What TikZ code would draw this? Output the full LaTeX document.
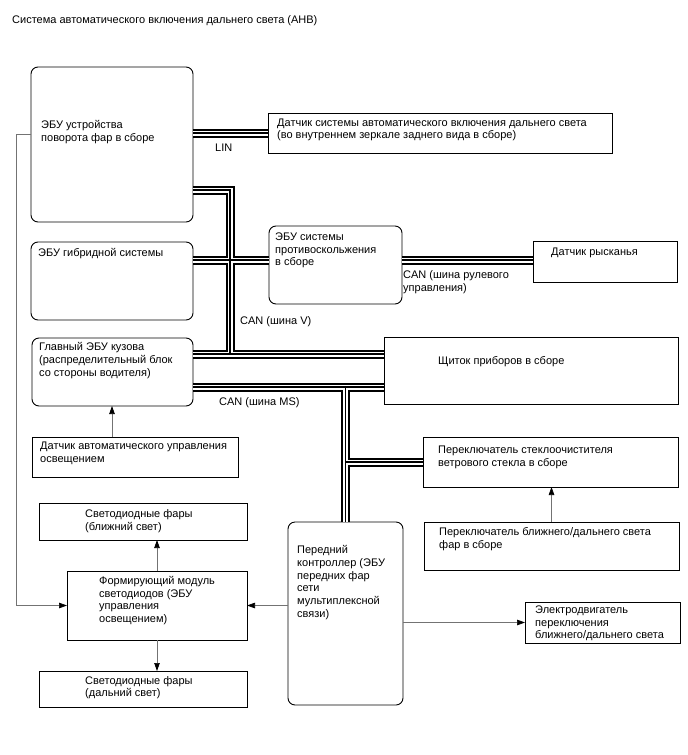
\documentclass[tikz,border=0pt]{standalone}
\usepackage{fontspec}
\setmainfont{Liberation Sans}
\usetikzlibrary{arrows.meta,calc}
\begin{document}
\begin{tikzpicture}[x=1pt,y=-1pt,
  box/.style={draw=black, line width=0.9pt, anchor=north west, inner sep=0pt, outer sep=0pt},
  rbox/.style={box, rounded corners=7pt},
  txt/.style={anchor=north west, inner sep=0pt, align=left, font=\fontsize{11}{12.7}\selectfont},
  conn/.style={draw=black!55, line width=0.7pt, -{Triangle[length=8pt,width=5.5pt,color=black]}}
]
\useasboundingbox (0,0) rectangle (688,755);

% title
\node[txt] (title) at (12,15) {Система автоматического включения дальнего света (АНВ)};

% boxes
\node[rbox, minimum width=162pt, minimum height=155pt] (b1) at (31,67) {};
\node[box, minimum width=344pt, minimum height=40pt] (bsens) at (268,113) {};
\node[rbox, minimum width=162pt, minimum height=78pt] (bhyb) at (31,242) {};
\node[rbox, minimum width=133pt, minimum height=78pt] (bas) at (269,226) {};
\node[box, minimum width=144pt, minimum height=41pt] (byaw) at (533,241) {};
\node[rbox, minimum width=161pt, minimum height=68pt] (bmain) at (32,338) {};
\node[box, minimum width=294pt, minimum height=67pt] (bdash) at (384,337) {};
\node[box, minimum width=206pt, minimum height=40pt] (blight) at (32,437) {};
\node[box, minimum width=255pt, minimum height=50pt] (bwip) at (423,437) {};
\node[box, minimum width=255pt, minimum height=48pt] (bsw) at (424,522) {};
\node[box, minimum width=208pt, minimum height=37pt] (bnear) at (39,503) {};
\node[rbox, minimum width=115pt, minimum height=183pt] (bfc) at (288,522) {};
\node[box, minimum width=180pt, minimum height=69pt] (bmod) at (67,571) {};
\node[box, minimum width=155pt, minimum height=41pt] (bmot) at (525,602) {};
\node[box, minimum width=208pt, minimum height=36pt] (bfar) at (39,671) {};

% texts
\node[txt] (t1) at (41,120.5) {ЭБУ устройства\\поворота фар в сборе};
\node[txt] (tsens) at (277,118.5) {Датчик системы автоматического включения дальнего света\\(во внутреннем зеркале заднего вида в сборе)};
\node[txt] (thyb) at (38,248.5) {ЭБУ гибридной системы};
\node[txt] (tas) at (275,232.5) {ЭБУ системы\\противоскольжения\\в сборе};
\node[txt] (tyaw) at (551,248) {Датчик рысканья};
\node[txt] (tmain) at (39,342.5) {Главный ЭБУ кузова\\(распределительный блок\\со стороны водителя)};
\node[txt] (tdash) at (438,356.5) {Щиток приборов в сборе};
\node[txt] (tlight) at (40,442) {Датчик автоматического управления\\освещением};
\node[txt] (twip) at (438,446) {Переключатель стеклоочистителя\\ветрового стекла в сборе};
\node[txt] (tsw) at (439,527.5) {Переключатель ближнего/дальнего света\\фар в сборе};
\node[txt] (tnear) at (85,509.5) {Светодиодные фары\\(ближний свет)};
\node[txt] (tfc) at (297,545.5) {Передний\\контроллер (ЭБУ\\передних фар\\сети\\мультиплексной\\связи)};
\node[txt] (tmod) at (99,576) {Формирующий модуль\\светодиодов (ЭБУ\\управления\\освещением)};
\node[txt] (tmot) at (535,605.5) {Электродвигатель\\переключения\\ближнего/дальнего света};
\node[txt] (tfar) at (85,676) {Светодиодные фары\\(дальний свет)};

% bus labels
\node[txt] (llin) at (215,143.5) {LIN};
\node[txt] (lcanv) at (240,316) {CAN (шина V)};
\node[txt] (lcanms) at (219,397.5) {CAN (шина MS)};
\node[txt] (lcans) at (403,270.5) {CAN (шина рулевого\\управления)};

% bus coordinates
\coordinate (vtop) at (230,190);
\coordinate (vmid) at (230,260);
\coordinate (vbot) at (230,354);
\coordinate (msy) at (0,387);

\foreach \w/\c in {9/black,5/white,1.6/black}{
  \draw[line width=\w pt, draw=\c]
    (b1.east |- bsens.west) -- (bsens.west)
    (b1.east |- vtop) -- (vtop) -- (vbot)
    (bhyb.east |- vmid) -- (bas.west |- vmid)
    (bas.east |- vmid) -- (byaw.west |- vmid)
    (bmain.east |- vbot) -- (bdash.west |- vbot)
    (bmain.east |- msy) -- (bdash.west |- msy)
    (bfc.north |- msy) -- (bfc.north)
    (bfc.north |- bwip.west) -- (bwip.west);
}

% connectors
\coordinate (lx) at (16,134);
\coordinate (ax) at (112,0);
\draw[conn] (b1.west |- lx) -- (lx) |- (bmod.west);
\draw[conn] (bfc.west |- bmod.east) -- (bmod.east);
\draw[conn] (bmod.north) -- (bmod.north |- bnear.south);
\draw[conn] (bmod.south) -- (bmod.south |- bfar.north);
\draw[conn] (bfc.east |- bmot.west) -- (bmot.west);
\draw[conn] (bsw.north) -- (bsw.north |- bwip.south);
\draw[conn] (blight.north -| ax) -- (bmain.south -| ax);
\end{tikzpicture}
\end{document}
